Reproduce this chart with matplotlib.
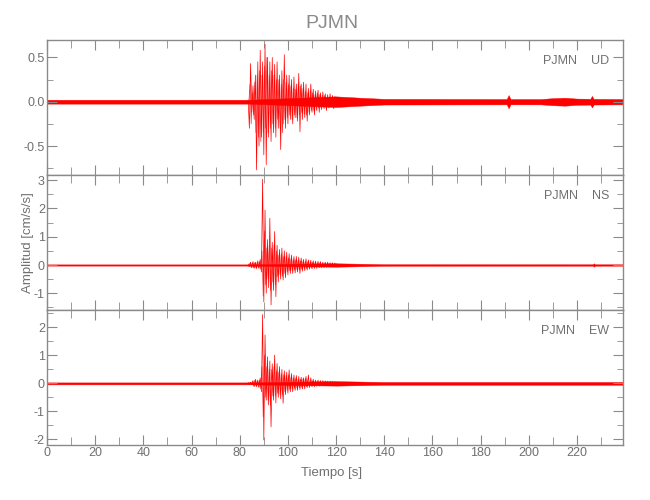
import matplotlib
matplotlib.use('Agg')
import matplotlib.pyplot as plt
import numpy as np
from matplotlib.ticker import MultipleLocator, FormatStrFormatter

plt.rcParams['font.family'] = ['Liberation Sans', 'DejaVu Sans']

station = 'PJMN'
components = ['UD', 'NS', 'EW']
t_end = 239.2

# event peaks (alternating half-cycles), every 0.5 s from t0
peak_t0 = 83.5
peak_dt = 0.5
ud_peaks = [0.02, -0.30, 0.43, -0.12, 0.18, -0.2, 0.3, -0.77, 0.45, -0.5,
            0.58, -0.4, 0.45, -0.6, 0.65, -0.71, 0.5, -0.4, 0.45, -0.45,
            0.5, -0.35, 0.42, -0.4, 0.45, -0.3, 0.3, -0.54, 0.35, -0.25,
            0.53, -0.3, 0.3, -0.25, 0.3, -0.2, 0.25, -0.25, 0.28, -0.18,
            0.2, -0.22, 0.32, -0.34, 0.2, -0.2, 0.22, -0.18, 0.2, -0.22,
            0.15, -0.15, 0.2, -0.12, 0.14, -0.15, 0.12, -0.1, 0.13, -0.12,
            0.1, -0.09, 0.11, -0.08, 0.09, -0.1, 0.08, -0.07, 0.09, -0.06,
            0.07, -0.08, 0.06, -0.05]
ns_peaks = [0.03, -0.06, 0.1, -0.1, 0.12, -0.12, 0.1, -0.13, 0.15, -0.12,
            0.2, -0.25, 3.03, -1.3, 1.94, -1.0, 0.9, -0.8, 1.65, -1.41,
            0.8, -0.9, 1.18, -1.12, 0.7, -0.6, 0.55, -0.5, 0.6, -0.53,
            0.5, -0.45, 0.45, -0.35, 0.4, -0.3, 0.35, -0.3, 0.3, -0.28,
            0.3, -0.25, 0.28, -0.3, 0.25, -0.22, 0.2, -0.2, 0.22, -0.18,
            0.18, -0.15, 0.17, -0.14, 0.15, -0.12, 0.14, -0.12, 0.13, -0.1,
            0.12, -0.1, 0.1, -0.09, 0.1, -0.08, 0.1, -0.07, 0.08, -0.07,
            0.08, -0.06, 0.07, -0.06]
ew_peaks = [0.03, -0.03, 0.04, -0.04, 0.1, -0.12, 0.15, -0.12, 0.12, -0.15,
            0.2, -0.3, 2.46, -2.02, 1.73, -0.6, 0.95, -0.77, 0.8, -1.55,
            0.7, -0.6, 1.01, -0.7, 0.71, -0.5, 0.6, -0.55, 0.5, -0.71,
            0.45, -0.4, 0.4, -0.35, 0.48, -0.3, 0.35, -0.3, 0.3, -0.25,
            0.28, -0.25, 0.25, -0.22, 0.22, -0.2, 0.2, -0.2, 0.25, -0.15,
            0.3, -0.15, 0.2, -0.12, 0.15, -0.12, 0.12, -0.1, 0.12, -0.1,
            0.1, -0.09, 0.1, -0.08, 0.09, -0.08, 0.08, -0.07, 0.08, -0.07,
            0.07, -0.06, 0.06, -0.06]

# in-between half-cycles (smaller swings), shifted by a quarter second
ud_peaks_mid = [-0.02, 0.2, -0.25, 0.1, -0.15, 0.22, -0.35, 0.3, -0.4, 0.35,
                -0.45, 0.3, -0.35, 0.4, -0.3, 0.5, -0.35, 0.3, -0.3, 0.35,
                -0.25, 0.3, -0.3, 0.25, -0.2, 0.25, -0.3, 0.2, -0.35, 0.25,
                -0.2, 0.22, -0.18, 0.2, -0.15, 0.18, -0.2, 0.15, -0.15, 0.14,
                -0.18, 0.2, -0.15, 0.18, -0.12, 0.15, -0.14, 0.12, -0.15, 0.1,
                -0.12, 0.12, -0.1, 0.1, -0.1, 0.08, -0.09, 0.1, -0.07, 0.08,
                -0.07, 0.07, -0.06, 0.07, -0.06, 0.05, -0.06, 0.05, -0.05, 0.05,
                -0.04, 0.05, -0.04, 0.04]
ns_peaks_mid = [-0.04, 0.06, -0.08, 0.08, -0.09, 0.08, -0.1, 0.1, -0.1, 0.12,
                -0.15, 0.5, -1.1, 1.2, -0.7, 0.6, -0.5, 0.7, -0.9, 0.6,
                -0.6, 0.7, -0.7, 0.5, -0.4, 0.35, -0.35, 0.4, -0.4, 0.3,
                -0.3, 0.3, -0.25, 0.25, -0.2, 0.22, -0.2, 0.2, -0.18, 0.18,
                -0.16, 0.17, -0.18, 0.15, -0.14, 0.13, -0.13, 0.12, -0.12, 0.11,
                -0.1, 0.1, -0.09, 0.09, -0.08, 0.08, -0.08, 0.07, -0.07, 0.07,
                -0.06, 0.06, -0.06, 0.05, -0.05, 0.05, -0.05, 0.05, -0.04, 0.04,
                -0.04, 0.04, -0.04, 0.04]
ew_peaks_mid = [-0.03, 0.03, -0.04, 0.06, -0.08, 0.1, -0.1, 0.1, -0.12, 0.12,
                -0.2, 0.6, -1.2, 1.0, -0.5, 0.6, -0.6, 0.5, -0.8, 0.5,
                -0.45, 0.6, -0.45, 0.45, -0.35, 0.4, -0.4, 0.35, -0.4, 0.3,
                -0.3, 0.28, -0.25, 0.3, -0.22, 0.22, -0.2, 0.2, -0.18, 0.18,
                -0.16, 0.16, -0.15, 0.15, -0.14, 0.16, -0.12, 0.18, -0.12, 0.13,
                -0.1, 0.1, -0.09, 0.09, -0.08, 0.08, -0.07, 0.07, -0.07, 0.06,
                -0.06, 0.06, -0.06, 0.05, -0.05, 0.05, -0.05, 0.05, -0.05, 0.05,
                -0.05, 0.05, -0.05, 0.05]

# background noise envelope (half-width)
ud_noise_t = [0, 84, 120, 130, 140, 190.8, 191.6, 192.4, 205, 210, 215,
              220, 225.5, 226.2, 226.9, t_end]
ud_noise = [0.022, 0.022, 0.06, 0.045, 0.032, 0.03, 0.075, 0.03,
            0.03, 0.04, 0.045, 0.035, 0.033, 0.065, 0.032, 0.03]
ns_noise_t = [0, 84, 120, 130, 140, 226.5, 227, 227.5, t_end]
ns_noise = [0.022, 0.022, 0.06, 0.045, 0.028, 0.025, 0.06, 0.025, 0.025]
ew_noise_t = [0, 85, 120, 130, 140, t_end]
ew_noise = [0.035, 0.035, 0.08, 0.065, 0.05, 0.05]

peaks = [ud_peaks, ns_peaks, ew_peaks]
peaks_mid = [ud_peaks_mid, ns_peaks_mid, ew_peaks_mid]
noise_t = [ud_noise_t, ns_noise_t, ew_noise_t]
noise = [ud_noise, ns_noise, ew_noise]
ylims = [(-0.827, 0.696), (-1.59, 3.18), (-2.2, 2.62)]
ymajor = [0.5, 1, 1]
yminor = [0.25, 0.5, 0.5]
yfmt = ['%.1f', '%d', '%d']

grey = '#8a8a8a'
fig = plt.figure(figsize=(6.5, 5), dpi=100)
left, width, h = 0.0723, 0.8866, 0.27
bottoms = [0.65, 0.38, 0.11]

for i in range(3):
    ax = fig.add_axes([left, bottoms[i], width, h])
    nt = np.array(noise_t[i])
    nv = np.array(noise[i])
    ax.fill_between(nt, -nv, nv, color='red', lw=0.3)
    tp = peak_t0 + peak_dt * np.arange(len(peaks[i]))
    tm = peak_t0 + peak_dt / 2 + peak_dt * np.arange(len(peaks_mid[i]))
    ax.plot(tm, peaks_mid[i], color='red', lw=0.5, alpha=0.8)
    ax.plot(tp, peaks[i], color='red', lw=0.5)

    ax.set_xlim(0, t_end)
    ax.set_ylim(*ylims[i])
    ax.xaxis.set_major_locator(MultipleLocator(20))
    ax.xaxis.set_minor_locator(MultipleLocator(10))
    ax.yaxis.set_major_locator(MultipleLocator(ymajor[i]))
    ax.yaxis.set_minor_locator(MultipleLocator(yminor[i]))
    ax.yaxis.set_major_formatter(FormatStrFormatter(yfmt[i]))
    ax.tick_params(which='both', direction='in', top=True, right=True,
                   color=grey, labelcolor='#707070', labelsize=9, pad=1.5)
    ax.tick_params(which='major', length=7)
    ax.tick_params(which='minor', length=4)
    ax.tick_params(axis='x', which='minor', length=6)
    for s in ax.spines.values():
        s.set_color(grey)
        s.set_linewidth(1)
    if i < 2:
        ax.tick_params(labelbottom=False)
    ax.text(0.975, 0.845, station + '    ' + components[i], transform=ax.transAxes,
            ha='right', va='center', fontsize=9, color='#707070')

fig.text(0.51, 0.953, station, ha='center', va='center', fontsize=14, color=grey)
fig.text(0.51, 0.054, 'Tiempo [s]', ha='center', va='center', fontsize=9.5, color='#707070')
fig.text(0.043, 0.514, 'Amplitud [cm/s/s]', ha='center', va='center', rotation=90,
         fontsize=9.5, color='#707070')

fig.savefig('out.png', dpi=100)
